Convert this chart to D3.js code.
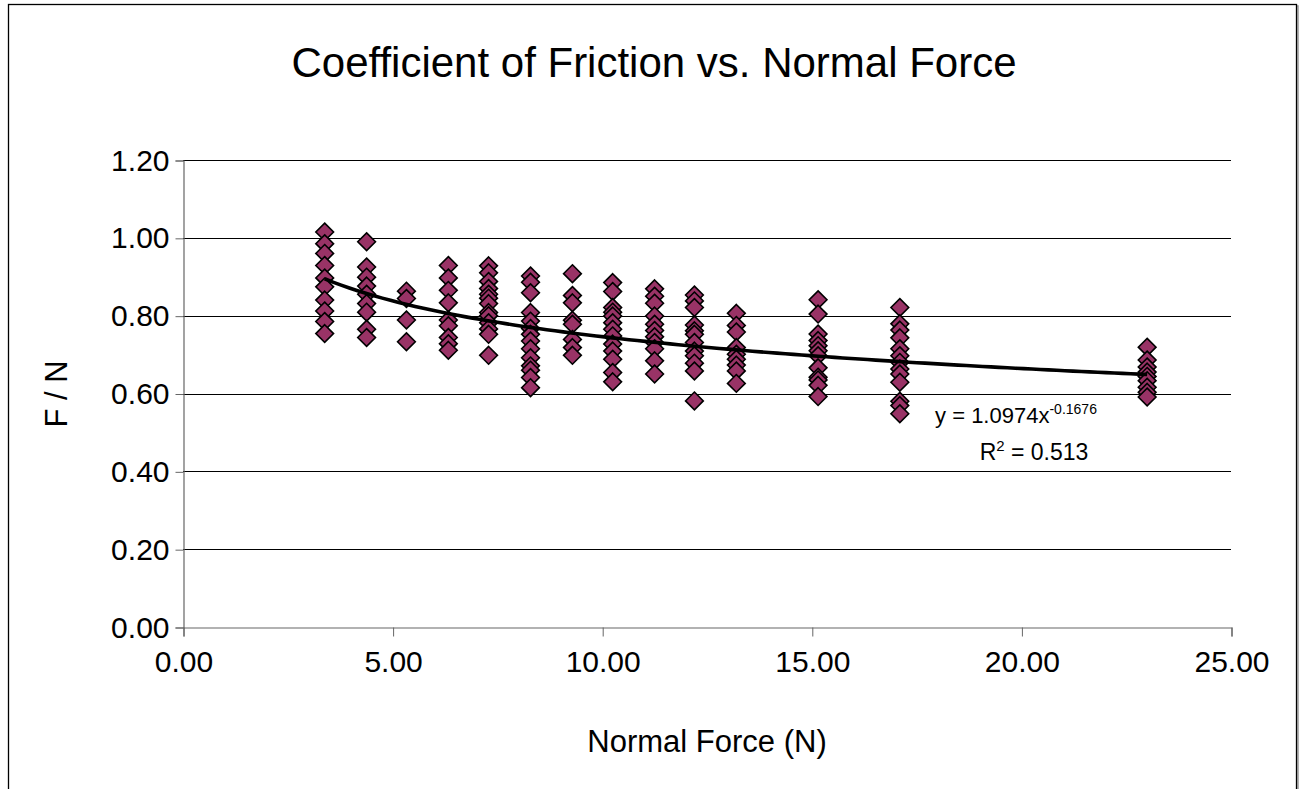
<!DOCTYPE html>
<html>
<head>
<meta charset="utf-8">
<script src="https://cdn.jsdelivr.net/npm/d3@7"></script>
<style>
  html, body { margin: 0; padding: 0; background: #fff; }
  svg { display: block; font-family: "Liberation Sans", Arial, sans-serif; }
</style>
</head>
<body>
<svg id="chart" width="1303" height="789"></svg>
<script>
// Normal force levels (N)
const normalForces = [3.38, 4.38, 5.33, 6.33, 7.29, 8.29, 9.29, 10.25, 11.25, 12.2, 13.2, 15.15, 17.1, 23.0];
// Measured F / N values for each normal force level
const ratios = [
  [1.015, 0.985, 0.960, 0.929, 0.897, 0.874, 0.840, 0.812, 0.785, 0.754],
  [0.990, 0.925, 0.899, 0.876, 0.855, 0.831, 0.809, 0.765, 0.744],
  [0.863, 0.844, 0.789, 0.733],
  [0.929, 0.897, 0.865, 0.833, 0.789, 0.774, 0.744, 0.728, 0.711],
  [0.928, 0.910, 0.888, 0.870, 0.855, 0.845, 0.831, 0.808, 0.800, 0.782, 0.766, 0.752, 0.698],
  [0.902, 0.886, 0.859, 0.808, 0.786, 0.767, 0.752, 0.735, 0.715, 0.692, 0.671, 0.660, 0.641, 0.615],
  [0.908, 0.852, 0.833, 0.788, 0.778, 0.739, 0.718, 0.698],
  [0.885, 0.862, 0.821, 0.809, 0.799, 0.782, 0.765, 0.748, 0.727, 0.709, 0.688, 0.654, 0.630],
  [0.869, 0.850, 0.832, 0.799, 0.778, 0.762, 0.746, 0.731, 0.715, 0.684, 0.650],
  [0.853, 0.838, 0.821, 0.776, 0.761, 0.752, 0.731, 0.709, 0.697, 0.678, 0.658, 0.581],
  [0.806, 0.775, 0.758, 0.718, 0.701, 0.688, 0.673, 0.658, 0.626],
  [0.841, 0.804, 0.753, 0.736, 0.723, 0.710, 0.697, 0.666, 0.642, 0.635, 0.621, 0.592],
  [0.821, 0.779, 0.763, 0.743, 0.715, 0.697, 0.680, 0.663, 0.650, 0.629, 0.580, 0.569, 0.548],
  [0.719, 0.686, 0.668, 0.655, 0.644, 0.633, 0.616, 0.603, 0.591]
];
// Power trendline reported on chart: y = a * x^b
const trendA = 1.0974;
const trendB = -0.1676;
const rSquared = "0.513";
const xTicks = [0, 5, 10, 15, 20, 25];
const yTicks = [0, 0.2, 0.4, 0.6, 0.8, 1.0, 1.2];

const points = [];
normalForces.forEach((f, i) => ratios[i].forEach(v => points.push({x: f, y: v})));

const svg = d3.select("#chart");

// Outer chart frame (with subtle shadow)
svg.append("rect").attr("x", 10).attr("y", 6).attr("width", 1288).attr("height", 800)
  .attr("fill", "none").attr("stroke", "#999").attr("stroke-width", 1.5);
svg.append("rect").attr("x", 8.5).attr("y", 4.5).attr("width", 1288).attr("height", 800)
  .attr("fill", "#fff").attr("stroke", "#000").attr("stroke-width", 1.3);

const x = d3.scaleLinear().domain([0, 25]).range([183, 1231]);
const y = d3.scaleLinear().domain([0, 1.2]).range([627, 160]);

// Gridlines
svg.append("g").selectAll("line").data(yTicks.filter(t => t > 0)).join("line")
  .attr("x1", x(0)).attr("x2", x(25))
  .attr("y1", d => Math.round(y(d)) + 0.5).attr("y2", d => Math.round(y(d)) + 0.5)
  .attr("stroke", "#000").attr("stroke-width", 1);

// Y axis
const yAxis = svg.append("g").attr("transform", `translate(${x(0) + 0.5},0.5)`)
  .call(d3.axisLeft(y).tickValues(yTicks).tickFormat(d3.format(".2f")).tickSize(8).tickPadding(6));
yAxis.select(".domain").attr("stroke", "#666").attr("stroke-width", 1.2);
yAxis.selectAll(".tick line").attr("stroke", "#666");
yAxis.selectAll("text").attr("font-size", 30).attr("fill", "#000")
  .attr("font-family", "'Liberation Sans', Arial, sans-serif");

// X axis
const xAxis = svg.append("g").attr("transform", `translate(0.5,${y(0) + 0.5})`)
  .call(d3.axisBottom(x).tickValues(xTicks).tickFormat(d3.format(".2f")).tickSize(9).tickPadding(14));
xAxis.select(".domain").attr("stroke", "#666").attr("stroke-width", 1.2);
xAxis.selectAll(".tick line").attr("stroke", "#666");
xAxis.selectAll("text").attr("font-size", 30).attr("fill", "#000")
  .attr("font-family", "'Liberation Sans', Arial, sans-serif");

// Points (diamonds)
const diamond = d3.symbol().type(d3.symbolDiamond2).size(200);
svg.append("g").selectAll("path").data(points).join("path")
  .attr("d", diamond)
  .attr("transform", d => `translate(${x(d.x)},${y(d.y)})`)
  .attr("fill", "#993366").attr("stroke", "#000").attr("stroke-width", 1.6);

// Power trendline
const xMin = d3.min(normalForces), xMax = d3.max(normalForces);
const trendX = d3.range(0, 101).map(i => xMin + (xMax - xMin) * i / 100);
svg.append("path")
  .datum(trendX)
  .attr("d", d3.line().x(d => x(d)).y(d => y(trendA * Math.pow(d, trendB))))
  .attr("fill", "none").attr("stroke", "#000").attr("stroke-width", 3.6);

// Title
svg.append("text").attr("x", 654).attr("y", 77).attr("text-anchor", "middle")
  .attr("font-size", 42).text("Coefficient of Friction vs. Normal Force");

// Axis titles
svg.append("text").attr("x", 707).attr("y", 752).attr("text-anchor", "middle")
  .attr("font-size", 31).text("Normal Force (N)");
svg.append("text").attr("transform", "translate(67,394) rotate(-90)").attr("text-anchor", "middle")
  .attr("font-size", 31).text("F / N");

// Equation labels
const eq = svg.append("text").attr("x", 1016).attr("y", 423).attr("text-anchor", "middle").attr("font-size", 22);
eq.append("tspan").text(`y = ${trendA}x`);
eq.append("tspan").attr("dy", -9).attr("font-size", 14).text(trendB);
const r2 = svg.append("text").attr("x", 1034).attr("y", 460).attr("text-anchor", "middle").attr("font-size", 23);
r2.append("tspan").text("R");
r2.append("tspan").attr("dy", -9).attr("font-size", 15).text("2");
r2.append("tspan").attr("dy", 9).text(` = ${rSquared}`);
</script>
</body>
</html>
